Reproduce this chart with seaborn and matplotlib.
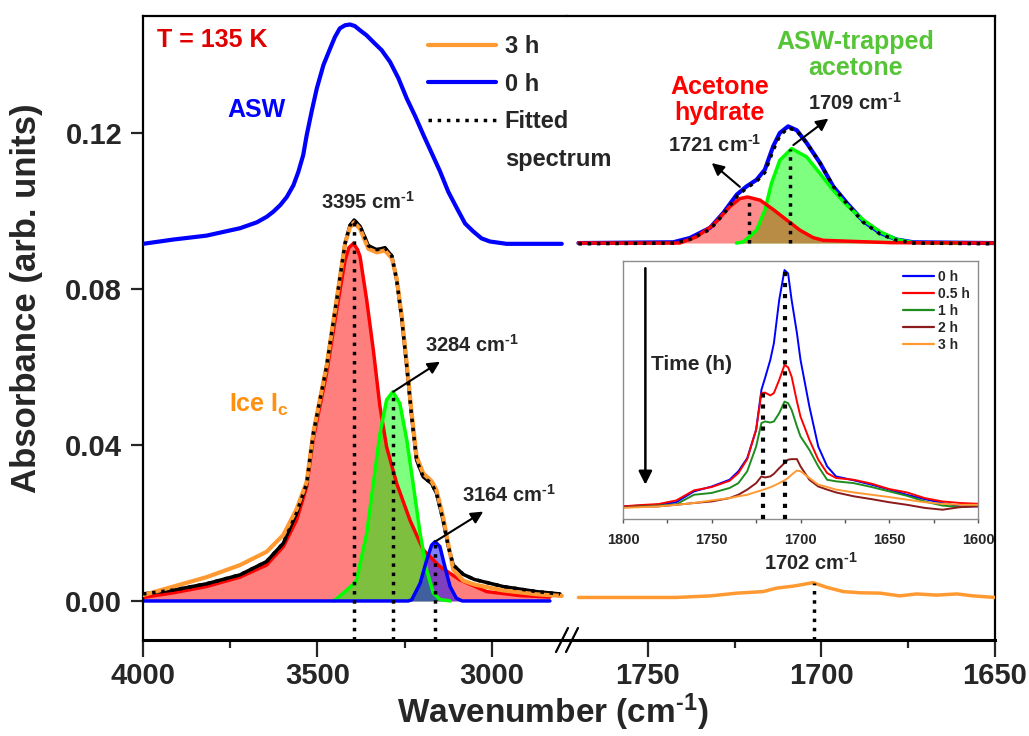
import numpy as np
import pandas as pd
import matplotlib
matplotlib.use("Agg")
import matplotlib.pyplot as plt
import seaborn as sns
from matplotlib.lines import Line2D

# ---------------- data ----------------
# Left segment (O-H stretch region), wavenumber in cm-1, absorbance
asw_wn = [4000, 3913, 3818, 3722, 3674, 3646, 3627, 3607, 3588, 3569, 3555, 3541, 3531, 3517, 3502,
          3483, 3464, 3450, 3436, 3421, 3407, 3393, 3378, 3359, 3340, 3316, 3292, 3268, 3244, 3220,
          3197, 3173, 3149, 3125, 3101, 3077, 3054, 3030, 3006, 2958, 2910, 2800]
asw_abs = [0.0915, 0.0926, 0.0936, 0.0955, 0.0970, 0.0984, 0.0997, 0.1014, 0.1035, 0.1065, 0.1099,
           0.1142, 0.1193, 0.1253, 0.1313, 0.1373, 0.1415, 0.1445, 0.1467, 0.1475, 0.1477, 0.1473,
           0.1462, 0.1449, 0.1432, 0.1411, 0.1381, 0.1339, 0.1287, 0.1242, 0.1195, 0.1148, 0.1101,
           0.1048, 0.1007, 0.0967, 0.0947, 0.0929, 0.0921, 0.0915, 0.0915, 0.0915]

fit_wn = [4000, 3913, 3818, 3722, 3646, 3598, 3560, 3531, 3512, 3474, 3445, 3421, 3407, 3395, 3378,
          3354, 3330, 3307, 3287, 3273, 3259, 3244, 3230, 3216, 3197, 3173, 3159, 3140, 3125, 3111,
          3082, 3050, 2968, 2872, 2805]
fit_abs = [0.0018, 0.0028, 0.0044, 0.0067, 0.0101, 0.0148, 0.0225, 0.0301, 0.0429, 0.0600, 0.0771,
           0.0916, 0.0962, 0.0976, 0.0960, 0.0910, 0.0900, 0.0905, 0.0884, 0.0822, 0.0728, 0.0600,
           0.0472, 0.0361, 0.0318, 0.0301, 0.0276, 0.0207, 0.0139, 0.0092, 0.0068, 0.0055, 0.0037,
           0.0024, 0.0018]

ice_wn = [4000, 3913, 3818, 3722, 3646, 3598, 3560, 3531, 3512, 3474, 3445, 3421, 3407, 3395, 3378,
          3354, 3330, 3307, 3287, 3273, 3259, 3244, 3230, 3216, 3197, 3173, 3159, 3140, 3125, 3111,
          3082, 3050, 2968, 2872, 2800]
ice_abs = [0.0015, 0.0037, 0.0061, 0.0092, 0.0126, 0.0169, 0.0235, 0.0305, 0.0431, 0.0602, 0.0773,
           0.0916, 0.0957, 0.0970, 0.0953, 0.0902, 0.0893, 0.0898, 0.0878, 0.0826, 0.0733, 0.0607,
           0.0480, 0.0370, 0.0327, 0.0307, 0.0284, 0.0215, 0.0145, 0.0080, 0.0052, 0.0042, 0.0027,
           0.0017, 0.0013]

p3395_wn = [4000, 3913, 3818, 3722, 3646, 3598, 3560, 3531, 3512, 3474, 3445, 3421, 3410, 3397, 3385,
            3378, 3359, 3340, 3321, 3302, 3273, 3235, 3197, 3149, 3092, 3015, 2920, 2834]
p3395_abs = [0.0009, 0.0021, 0.0037, 0.0061, 0.0092, 0.0139, 0.0207, 0.0293, 0.0416, 0.0583, 0.0745,
             0.0873, 0.0905, 0.0916, 0.0900, 0.0882, 0.0771, 0.0643, 0.0498, 0.0395, 0.0301, 0.0207,
             0.0131, 0.0088, 0.0054, 0.0024, 0.0014, 0.0010]

p3284_wn = [3453, 3420, 3395, 3388, 3359, 3340, 3321, 3302, 3284, 3264, 3244, 3226, 3206, 3187, 3168,
            3149, 3120]
p3284_abs = [0.0000, 0.0025, 0.0045, 0.0054, 0.0173, 0.0301, 0.0429, 0.0515, 0.0536, 0.0506, 0.0412,
             0.0301, 0.0173, 0.0079, 0.0020, 0.0004, 0.0000]

p3164_wn = [4000, 3240, 3230, 3206, 3187, 3173, 3163, 3149, 3135, 3120, 3102, 3085, 2834]
p3164_abs = [0, 0, 0.0003, 0.0045, 0.0105, 0.0143, 0.0152, 0.0139, 0.0088, 0.0037, 0.0007, 0, 0]

peaks_left = [3395, 3284, 3164]
peak_tops_left = [0.0976, 0.0536, 0.0152]

# Right segment (C=O stretch region)
aswr_wn = [1770, 1742.7, 1737.9, 1732.1, 1728.3, 1724.4, 1721.6, 1718.7, 1716.3, 1713.9, 1712.0,
           1709.6, 1707.1, 1704.3, 1700.4, 1696.6, 1692.7, 1687.9, 1683.1, 1678.3, 1673.5, 1650]
aswr_abs = [0.0917, 0.0919, 0.0930, 0.0956, 0.0994, 0.1041, 0.1062, 0.1079, 0.1105, 0.1165, 0.1199,
            0.1216, 0.1206, 0.1174, 0.1122, 0.1062, 0.1020, 0.0973, 0.0943, 0.0926, 0.0919, 0.0917]
fitr_abs = [0.0915, 0.0917, 0.0926, 0.0952, 0.0990, 0.1036, 0.1058, 0.1075, 0.1098, 0.1155, 0.1192,
            0.1212, 0.1205, 0.1174, 0.1122, 0.1062, 0.1018, 0.0970, 0.0940, 0.0924, 0.0917, 0.0915]
ace_base = 0.0917

p1721_wn = [1770, 1740.8, 1736.0, 1731.2, 1726.4, 1723.5, 1721.3, 1717.7, 1713.9, 1710.0, 1706.2,
            1702.4, 1699.5, 1690, 1680, 1650]
p1721_abs = [0.0917, 0.0917, 0.0933, 0.0963, 0.1010, 0.1031, 0.1035, 0.1027, 0.1003, 0.0976, 0.0950,
             0.0931, 0.0924, 0.0921, 0.0918, 0.0917]

p1709_wn = [1724.5, 1722.5, 1718.7, 1716.3, 1714.4, 1712.0, 1708.6, 1704.3, 1700.4, 1696.6, 1692.7,
            1687.9, 1683.1, 1678.3, 1673.5, 1660]
p1709_abs = [0.0917, 0.0920, 0.0950, 0.1001, 0.1070, 0.1129, 0.1159, 0.1138, 0.1095, 0.1052, 0.1014,
             0.0976, 0.0946, 0.0926, 0.0918, 0.0917]

h3r_wn = [1770, 1756, 1742, 1732, 1724.4, 1716.8, 1712.9, 1708.1, 1702.4, 1698.5, 1693.7, 1688.9,
          1683.1, 1677.4, 1672.6, 1666.8, 1661.0, 1656.3, 1650]
h3r_abs = [0.0009, 0.0009, 0.0009, 0.0013, 0.0020, 0.0024, 0.0033, 0.0038, 0.0047, 0.0035, 0.0024,
           0.0021, 0.0020, 0.0013, 0.0018, 0.0015, 0.0018, 0.0013, 0.0009]

peaks_right = [1721, 1709]
peak_tops_right = [0.1035, 0.1159]
peak_1702 = 1702
peak_1702_top = 0.0047

# Inset: C=O band vs time (arbitrary units)
ins_wn = [1800, 1790, 1780, 1770, 1760, 1750, 1740, 1735, 1730, 1725, 1722, 1720, 1717, 1715, 1712,
          1709, 1707, 1705, 1702, 1700, 1695, 1690, 1685, 1680, 1670, 1660, 1650, 1640, 1630, 1620,
          1610, 1600]
ins_0h = [0.049, 0.052, 0.055, 0.065, 0.107, 0.126, 0.152, 0.185, 0.236, 0.346, 0.501, 0.546, 0.617,
          0.681, 0.849, 0.965, 0.952, 0.849, 0.720, 0.617, 0.436, 0.281, 0.204, 0.165, 0.150, 0.133,
          0.114, 0.094, 0.077, 0.062, 0.049, 0.049]
ins_05h = [0.049, 0.054, 0.058, 0.072, 0.111, 0.124, 0.148, 0.178, 0.232, 0.346, 0.488, 0.490, 0.479,
           0.488, 0.539, 0.597, 0.588, 0.552, 0.455, 0.397, 0.307, 0.230, 0.178, 0.159, 0.152, 0.137,
           0.116, 0.103, 0.081, 0.068, 0.062, 0.059]
ins_1h = [0.046, 0.049, 0.052, 0.057, 0.094, 0.101, 0.120, 0.139, 0.185, 0.281, 0.372, 0.378, 0.374,
          0.378, 0.410, 0.455, 0.449, 0.423, 0.359, 0.320, 0.268, 0.204, 0.152, 0.146, 0.139, 0.124,
          0.107, 0.090, 0.068, 0.052, 0.046, 0.052]
ins_2h = [0.046, 0.048, 0.049, 0.055, 0.062, 0.068, 0.081, 0.094, 0.114, 0.139, 0.165, 0.161, 0.165,
          0.175, 0.197, 0.217, 0.230, 0.232, 0.232, 0.204, 0.152, 0.126, 0.114, 0.103, 0.088, 0.077,
          0.065, 0.055, 0.043, 0.036, 0.046, 0.049]
ins_3h = [0.043, 0.046, 0.049, 0.055, 0.062, 0.072, 0.081, 0.088, 0.094, 0.105, 0.111, 0.116, 0.123,
          0.129, 0.139, 0.150, 0.159, 0.172, 0.188, 0.185, 0.159, 0.133, 0.124, 0.114, 0.103, 0.094,
          0.085, 0.075, 0.065, 0.059, 0.055, 0.055]
ins_labels = ["0 h", "0.5 h", "1 h", "2 h", "3 h"]
ins_colors = ["#0000FF", "#FF0000", "#1E8C1E", "#8B1A1A", "#FF9A33"]
ins_peaks = [1721, 1709]
ins_peak_tops = [0.494, 0.965]

# ---------------- style ----------------
sns.set_theme(style="white")
plt.rcParams["font.family"] = ["Liberation Sans", "DejaVu Sans"]
plt.rcParams["font.weight"] = "bold"
plt.rcParams["mathtext.fontset"] = "custom"
plt.rcParams["mathtext.rm"] = "Liberation Sans:bold"
plt.rcParams["mathtext.bf"] = "Liberation Sans:bold"
plt.rcParams["mathtext.it"] = "Liberation Sans:bold"
plt.rcParams["mathtext.default"] = "bf"
plt.rcParams["axes.edgecolor"] = "black"

ORANGE = "#FF9A33"
W, H = 1029, 736
INV_CM = "cm$^{\u20101}$"


def fx(px):
    return px / W


def fy(py):
    return 1 - py / H


def line(ax, x, y, color, lw, ls="-", z=2):
    sns.lineplot(x=x, y=y, ax=ax, color=color, lw=lw, linestyle=ls, zorder=z,
                 estimator=None, sort=False, legend=False)


fig = plt.figure(figsize=(W / 100, H / 100), dpi=100)
axL = fig.add_axes([fx(143), fy(640), fx(424), (640 - 15.5) / H])
axR = fig.add_axes([fx(567), fy(640), fx(428), (640 - 15.5) / H])

# ---- left segment ----
axL.fill_between(p3395_wn, p3395_abs, 0, color="red", alpha=0.5, lw=0, zorder=1)
axL.fill_between(p3284_wn, p3284_abs, 0, color="lime", alpha=0.5, lw=0, zorder=1.1)
axL.fill_between(p3164_wn, p3164_abs, 0, color="blue", alpha=0.5, lw=0, zorder=1.2)
line(axL, p3395_wn, p3395_abs, "red", 2.5, z=2)
line(axL, p3284_wn, p3284_abs, "lime", 2.5, z=2.1)
line(axL, p3164_wn, p3164_abs, "blue", 2.5, z=2.2)
line(axL, fit_wn, fit_abs, "black", 2.5, z=3)
line(axL, ice_wn, ice_abs, ORANGE, 3.0, z=3.5)
line(axL, fit_wn, fit_abs, "black", 2.5, ls=":", z=4)
line(axL, asw_wn, asw_abs, "blue", 3.0, z=3)
axL.vlines(peaks_left, -0.01, peak_tops_left, colors="black", linestyles=":", lw=2.5, zorder=4.5)

# ---- right segment ----
line(axR, aswr_wn, aswr_abs, "blue", 3.0, z=2)
axR.fill_between(p1709_wn, p1709_abs, ace_base, color="lime", alpha=0.5, lw=0, zorder=1)
axR.fill_between(p1721_wn, p1721_abs, ace_base, color="red", alpha=0.45, lw=0, zorder=1.1)
line(axR, p1709_wn, p1709_abs, "lime", 2.5, z=2.2)
line(axR, p1721_wn, p1721_abs, "red", 2.5, z=2.3)
line(axR, aswr_wn, fitr_abs, "black", 2.5, ls=":", z=4)
axR.vlines(peaks_right, ace_base, peak_tops_right, colors="black", linestyles=":", lw=2.5, zorder=4.5)
line(axR, h3r_wn, h3r_abs, ORANGE, 2.5, z=3)
axR.vlines([peak_1702], -0.01, [peak_1702_top], colors="black", linestyles=":", lw=2.5, zorder=4.5)

# ---- axes cosmetics ----
for ax in (axL, axR):
    ax.set_ylim(-0.01, 0.15)
    for s in ax.spines.values():
        s.set_linewidth(1.6)
        s.set_color("black")
    ax.spines["bottom"].set_linewidth(2.2)
    ax.set_xlabel("")
    ax.set_ylabel("")
axL.set_xlim(4000, 2785)
axR.set_xlim(1773.3, 1650)
axL.spines["right"].set_visible(False)
axR.spines["left"].set_visible(False)

axL.set_xticks([4000, 3500, 3000])
axL.set_xticks([3750, 3250], minor=True)
axR.set_xticks([1750, 1700, 1650])
axR.set_xticks([1725, 1675], minor=True)
axL.set_yticks([0.00, 0.04, 0.08, 0.12])
axL.set_yticklabels(["0.00", "0.04", "0.08", "0.12"])
axR.set_yticks([])
for ax in (axL, axR):
    ax.tick_params(axis="x", which="major", bottom=True, direction="out", length=12, width=1.6,
                   labelsize=21, pad=4)
    ax.tick_params(axis="x", which="minor", bottom=True, direction="out", length=6, width=1.6)
axL.tick_params(axis="y", which="major", left=True, direction="out", length=9, width=1.6,
                labelsize=21, pad=6)

# axis break marks
for dx in (0, 10):
    fig.add_artist(Line2D([fx(556 + dx), fx(568 + dx)], [fy(652), fy(628)], color="black", lw=1.6))

# ---- labels ----
fig.text(fx(553), fy(712), "Wavenumber (" + INV_CM + ")", ha="center", va="center", fontsize=24,
         fontweight="bold")
fig.text(fx(27), fy(298), "Absorbance (arb. units)", ha="center", va="center", rotation=90,
         fontsize=25, fontweight="bold")
fig.text(fx(157), fy(40), "T = 135 K", color="#E00000", fontsize=18, fontweight="bold",
         ha="left", va="center")
fig.text(fx(257), fy(110), "ASW", color="#0000FF", fontsize=18, fontweight="bold",
         ha="center", va="center")
fig.text(fx(229), fy(405), "Ice I$_{c}$", color="#FF9010", fontsize=18, fontweight="bold",
         ha="left", va="center")

axL.text(3355, 0.1022, "3395 " + INV_CM, fontsize=14.5, ha="center", va="center")
axL.text(3192, 0.0656, "3284 " + INV_CM, fontsize=14.5, ha="left", va="center")
axL.text(3087, 0.0271, "3164 " + INV_CM, fontsize=14.5, ha="left", va="center")
arrow = dict(arrowstyle="-|>", color="black", lw=1.5, mutation_scale=18, shrinkA=0, shrinkB=0)
axL.annotate("", xy=(3149, 0.0613), xytext=(3283, 0.0536), arrowprops=arrow, zorder=6)
axL.annotate("", xy=(3025, 0.0229), xytext=(3163, 0.0152), arrowprops=arrow, zorder=6)

axR.text(1730.7, 0.1168, "1721 " + INV_CM, fontsize=14.5, ha="center", va="center")
axR.text(1690.3, 0.1275, "1709 " + INV_CM, fontsize=14.5, ha="center", va="center")
axR.text(1703.0, 0.0097, "1702 " + INV_CM, fontsize=14.5, ha="center", va="center")
axR.annotate("", xy=(1731.6, 0.1122), xytext=(1723.5, 0.1061), arrowprops=arrow, zorder=6)
axR.annotate("", xy=(1698.0, 0.1236), xytext=(1708.1, 0.1168), arrowprops=arrow, zorder=6)
axR.text(1729.3, 0.1283, "Acetone\nhydrate", color="#FF0000", fontsize=18, ha="center",
         va="center", linespacing=1.1)
axR.text(1690.3, 0.1398, "ASW-trapped\nacetone", color="#55C436", fontsize=18, ha="center",
         va="center", linespacing=1.1)

# ---- main legend ----
handles = [Line2D([], [], color=ORANGE, lw=3),
           Line2D([], [], color="blue", lw=3),
           Line2D([], [], color="black", lw=2.5, ls=":"),
           Line2D([], [], color="none", lw=0)]
fig.legend(handles, ["3 h", "0 h", "Fitted", "spectrum"], loc="upper left",
           bbox_to_anchor=(fx(428), fy(35)), frameon=False, borderpad=0, borderaxespad=0,
           handlelength=2.9, handletextpad=0.35, labelspacing=0.62,
           prop={"weight": "bold", "size": 17})

# ---- inset ----
axI = fig.add_axes([fx(623), fy(519), fx(355), 258 / H])
axI.set_facecolor("white")
ins_df = pd.DataFrame({
    "wn": ins_wn * 5,
    "absorb": ins_0h + ins_05h + ins_1h + ins_2h + ins_3h,
    "time": sum([[lab] * len(ins_wn) for lab in ins_labels], []),
})
sns.lineplot(data=ins_df, x="wn", y="absorb", hue="time", hue_order=ins_labels,
             palette=ins_colors, lw=1.4, estimator=None, sort=False, legend=False, ax=axI)
axI.vlines(ins_peaks, 0, ins_peak_tops, colors="black", linestyles=":", lw=3, zorder=5)
axI.annotate("", xy=(1787.4, 0.133), xytext=(1787.4, 0.972),
             arrowprops=dict(arrowstyle="-|>", color="black", lw=1.8, mutation_scale=20,
                             shrinkA=0, shrinkB=0))
axI.text(1784, 0.60, "Time (h)", fontsize=15, ha="left", va="center")
axI.set_xlim(1800, 1600)
axI.set_ylim(0, 1)
axI.set_xticks([1800, 1750, 1700, 1650, 1600])
axI.set_xticks([1775, 1725, 1675, 1625], minor=True)
axI.set_yticks([])
axI.set_xlabel("")
axI.set_ylabel("")
axI.tick_params(axis="x", which="both", bottom=True, direction="out", length=3, width=1,
                labelsize=10.5, pad=7, color="#555555")
for s in axI.spines.values():
    s.set_color("#8C8C8C")
    s.set_linewidth(1.0)
ins_handles = [Line2D([], [], color=c, lw=1.6) for c in ins_colors]
axI.legend(ins_handles, ins_labels, loc="upper left", bbox_to_anchor=(0.79, 0.965),
           frameon=False, borderpad=0, borderaxespad=0, handlelength=2.2, handletextpad=0.3,
           labelspacing=0.21, prop={"weight": "bold", "size": 10})

fig.savefig("out.png", dpi=100)
